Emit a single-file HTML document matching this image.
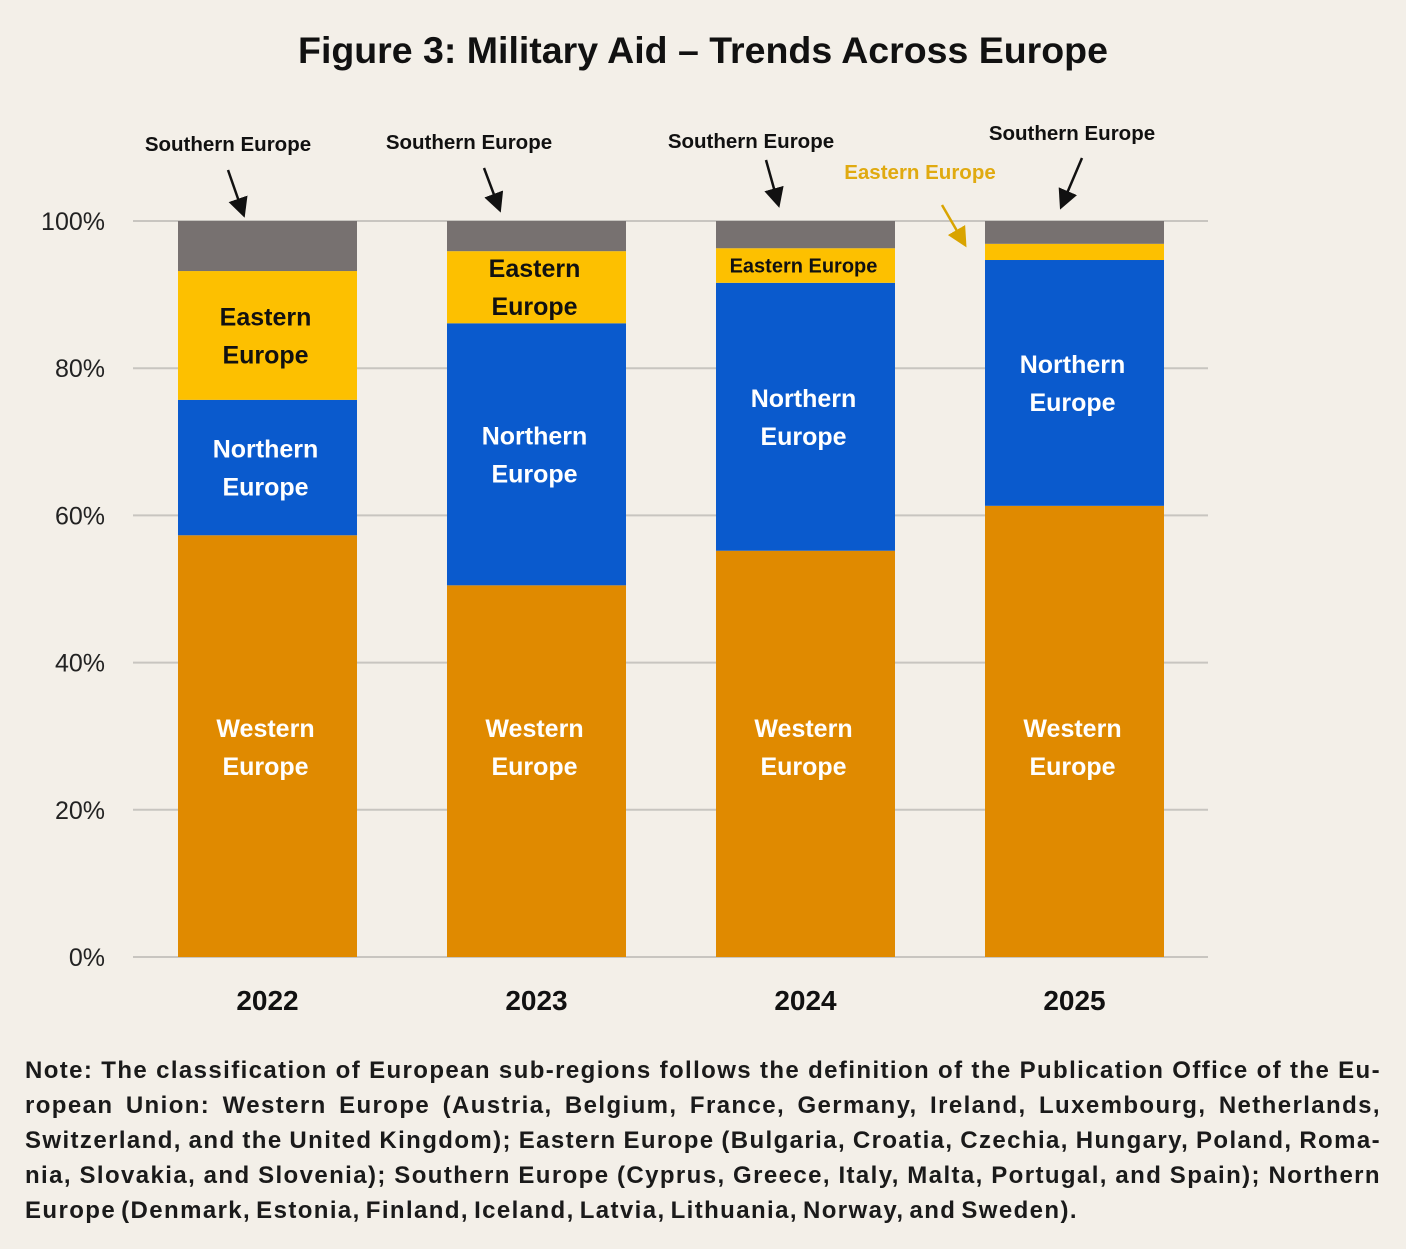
<!DOCTYPE html>
<html><head><meta charset="utf-8"><style>
body{margin:0;background:#f3efe8;width:1406px;height:1249px;overflow:hidden;font-family:"Liberation Sans",sans-serif}
#title{position:absolute;top:29px;left:0;width:1406px;text-align:center;font-size:37.5px;font-weight:bold;color:#111}
#note{position:absolute;left:25px;top:1053px;width:1356px;font-size:24px;line-height:35px;color:#1a1a1a;letter-spacing:1.4px;font-weight:bold}
#note div{text-align:justify;text-align-last:justify;white-space:nowrap;word-spacing:-3px}
#note div.last{text-align-last:left}
svg{position:absolute;left:0;top:0}
</style></head><body>
<div id="title">Figure 3: Military Aid – Trends Across Europe</div>
<svg id="chart" width="1406" height="1040"></svg>
<div id="note">
<div>Note: The classification of European sub-regions follows the definition of the Publication Office of the Eu-</div>
<div>ropean Union: Western Europe (Austria, Belgium, France, Germany, Ireland, Luxembourg, Netherlands,</div>
<div>Switzerland, and the United Kingdom); Eastern Europe (Bulgaria, Croatia, Czechia, Hungary, Poland, Roma-</div>
<div>nia, Slovakia, and Slovenia); Southern Europe (Cyprus, Greece, Italy, Malta, Portugal, and Spain); Northern</div>
<div class="last">Europe (Denmark, Estonia, Finland, Iceland, Latvia, Lithuania, Norway, and Sweden).</div>
</div>
<script>
const years=["2022","2023","2024","2025"];
const western=[57.3,50.5,55.2,61.3];
const northern=[18.4,35.6,36.4,33.4];
const eastern=[17.5,9.8,4.7,2.2];
const southern=[6.8,4.1,3.7,3.1];
const yTicks=[0,20,40,60,80,100];
const NS="http://www.w3.org/2000/svg";
const svg=document.getElementById('chart');
const y0=957,y1=221,xL=133,xR=1208;
const y=v=>y0-(y0-y1)*v/100;
const bx=i=>178+i*269, bw=179;
function mk(t,a,p){const e=document.createElementNS(NS,t);for(const k in a)e.setAttribute(k,a[k]);(p||svg).appendChild(e);return e;}
function txt(s,x,yy,opt){const e=mk('text',Object.assign({x:x,y:yy,'text-anchor':'middle','font-family':'Liberation Sans, sans-serif'},opt));e.textContent=s;return e;}
yTicks.forEach(t=>{
 const g=mk('line',{x1:xL,x2:xR,y1:y(t),y2:y(t),stroke:'#c8c5c0','stroke-width':2});
 
 
 const l=txt(t+'%',105,y(t)+9,{'text-anchor':'end','font-size':25,fill:'#222'});
 
 
});
const series=[[western,'#e08a00','western'],[northern,'#0a5acd','northern'],[eastern,'#fdc000','eastern'],[southern,'#777170','southern']];
const LF={'font-size':25,'font-weight':'bold'};
years.forEach((yr,i)=>{
 let base=0;
 series.forEach(([arr,col,nm])=>{
  const r=mk('rect',{x:bx(i),width:bw,y:y(base+arr[i]),height:y(base)-y(base+arr[i]),fill:col});
  
  
  base+=arr[i];
 });
 const xl=txt(yr,bx(i)+bw/2,1010,{'font-size':28,'font-weight':'bold',fill:'#111'});
 
 
 const cx=bx(i)+bw/2-2;
 const wm=747;
 const wl=txt('Western',cx,wm-10,Object.assign({fill:'#fff'},LF));
 
 txt('Europe',cx,wm+28,Object.assign({fill:'#fff'},LF));
 const nm=y(western[i]+northern[i]/2);
 const nl=txt('Northern',cx,nm-10,Object.assign({fill:'#fff'},LF));
 
 txt('Europe',cx,nm+28,Object.assign({fill:'#fff'},LF));
 const em=y(western[i]+northern[i]+eastern[i]/2);
 if(eastern[i]>8){txt('Eastern',cx,em-10,Object.assign({fill:'#111'},LF));txt('Europe',cx,em+28,Object.assign({fill:'#111'},LF));}
 else if(eastern[i]>4){txt('Eastern Europe',cx,em+7,{'font-size':20,'font-weight':'bold',fill:'#111'});}
});
mk('defs',{}).innerHTML='<marker id="ah" markerWidth="8" markerHeight="8" refX="6" refY="4" orient="auto"><path d="M0,0L8,4L0,8z" fill="#111"/></marker><marker id="ahy" markerWidth="8" markerHeight="8" refX="6" refY="4" orient="auto"><path d="M0,0L8,4L0,8z" fill="#d9a400"/></marker>';
const ann=[[228,151,228,170,243,213],[469,149,484,168,499,208],[751,148,766,160,778,203],[1072,140,1082,158,1062,205]];
ann.forEach((a,i)=>{
 const t=txt('Southern Europe',a[0],a[1],{'font-size':20.5,'font-weight':'bold',fill:'#111'});
 
 mk('line',{x1:a[2],y1:a[3],x2:a[4],y2:a[5],stroke:'#111','stroke-width':2.5,'marker-end':'url(#ah)'});
});
const ea=txt('Eastern Europe',920,179,{'font-size':20.5,'font-weight':'bold',fill:'#e0aa10'});

mk('line',{x1:942,y1:205,x2:964,y2:243,stroke:'#d9a400','stroke-width':2.5,'marker-end':'url(#ahy)'});
</script>
</body></html>
